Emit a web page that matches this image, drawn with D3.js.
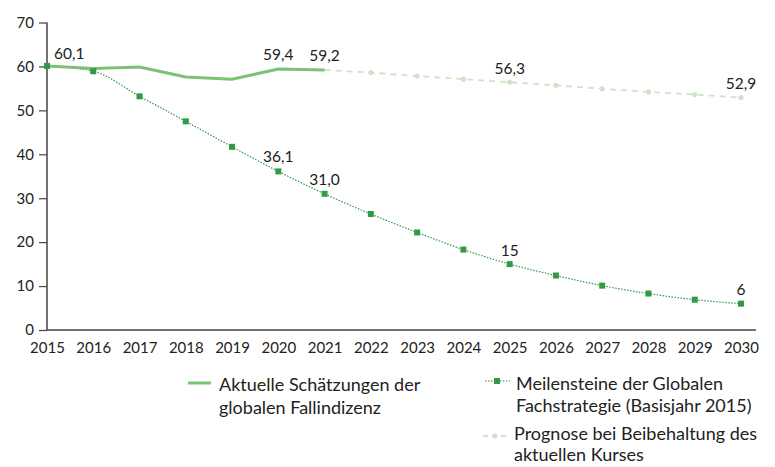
<!DOCTYPE html>
<html><head><meta charset="utf-8">
<script src="https://cdn.jsdelivr.net/npm/d3@7"></script>
<style>body{margin:0;background:#fff}svg{font-family:Lato,"Open Sans",sans-serif}</style>
</head><body><svg id="c" width="775" height="467"></svg>
<script>
const years = d3.range(2015, 2031);
const yTicks = [0,10,20,30,40,50,60,70];
const currentYears = [2015,2016,2017,2018,2019,2020,2021];
const currentValues = [60.1,59.55,59.85,57.6,57.1,59.4,59.2];
const milestoneYears = d3.range(2015, 2031);
const milestoneValues = [60.1,58.9,53.2,47.5,41.7,36.1,31.0,26.4,22.2,18.3,15,12.4,10.1,8.3,6.9,6];
const forecastYears = d3.range(2021, 2031);
const forecastValues = [59.2,58.6,57.8,57.1,56.4,55.7,54.9,54.2,53.6,52.9];
const labels = [
  {year:2015, value:60.1, text:"60,1", anchor:"start", dx:7, dy:-7},
  {year:2020, value:59.4, text:"59,4", anchor:"middle", dx:0, dy:-9},
  {year:2021, value:59.2, text:"59,2", anchor:"middle", dx:0, dy:-9},
  {year:2020, value:36.1, text:"36,1", anchor:"middle", dx:0, dy:-9},
  {year:2021, value:31.0, text:"31,0", anchor:"middle", dx:0, dy:-9},
  {year:2025, value:15, text:"15", anchor:"middle", dx:0, dy:-8},
  {year:2030, value:6, text:"6", anchor:"middle", dx:0, dy:-9},
  {year:2025, value:56.3, text:"56,3", anchor:"middle", dx:0, dy:-9},
  {year:2030, value:52.9, text:"52,9", anchor:"middle", dx:0, dy:-9}
];
const cCur="#7cc274", cMil="#2f9a48", cFor="#cfe3c9";
const svg = d3.select("#c");
const x = d3.scaleLinear().domain([2015,2030]).range([47,741]);
const y = d3.scaleLinear().domain([0,70]).range([330,22.5]);

const gy = svg.append("g").attr("transform","translate(47,0)")
  .call(d3.axisLeft(y).tickValues(yTicks).tickSize(8).tickPadding(5).tickFormat(d3.format("d")));
gy.select(".domain").attr("d",`M0,${y(70)}V${y(0)}`);
const gx = svg.append("g").attr("transform",`translate(0,${y(0)})`)
  .call(d3.axisBottom(x).tickValues(years).tickSize(0).tickPadding(12).tickFormat(d3.format("d")));
gx.select(".domain").attr("d",`M47,0H756`);
svg.selectAll(".domain").attr("stroke","#444").attr("stroke-width",1.5);
svg.selectAll(".tick line").attr("stroke","#444").attr("stroke-width",1.2);
svg.selectAll(".tick text").attr("font-size",15).attr("fill","#222").attr("font-family","Lato, sans-serif");

const line = d3.line().x(d=>x(d[0])).y(d=>y(d[1]));
const fData = forecastYears.map((d,i)=>[d,forecastValues[i]]);
svg.append("path").attr("d",line(fData)).attr("fill","none").attr("stroke",cFor).attr("stroke-width",1.8).attr("stroke-dasharray","6,5");
svg.selectAll(".fp").data(fData.slice(1)).join("circle").attr("cx",d=>x(d[0])).attr("cy",d=>y(d[1])).attr("r",2.6).attr("fill",cFor);
const mData = milestoneYears.map((d,i)=>[d,milestoneValues[i]]);
svg.append("path").attr("d",d3.line().curve(d3.curveMonotoneX).x(d=>x(d[0])).y(d=>y(d[1]))(mData)).attr("fill","none").attr("stroke",cMil).attr("stroke-width",1.2).attr("stroke-dasharray","1.5,1.5");
const cData = currentYears.map((d,i)=>[d,currentValues[i]]);
svg.append("path").attr("d",line(cData)).attr("fill","none").attr("stroke",cCur).attr("stroke-width",3);
svg.selectAll(".mp").data(mData).join("rect").attr("x",d=>x(d[0])-3).attr("y",d=>y(d[1])-3).attr("width",6).attr("height",6).attr("fill",cMil);

svg.selectAll(".lb").data(labels).join("text")
  .attr("x",d=>x(d.year)+d.dx).attr("y",d=>y(d.value)+d.dy)
  .attr("text-anchor",d=>d.anchor).attr("font-size",15.5).attr("fill","#222").text(d=>d.text);

const lg = svg.append("g").attr("font-size",18).attr("fill","#222");
lg.append("line").attr("x1",188).attr("x2",211).attr("y1",383).attr("y2",383).attr("stroke",cCur).attr("stroke-width",3);
lg.append("text").attr("x",219).attr("y",391).text("Aktuelle Schätzungen der");
lg.append("text").attr("x",219).attr("y",414).text("globalen Fallindizenz");
lg.append("line").attr("x1",485).attr("x2",510).attr("y1",381).attr("y2",381).attr("stroke",cMil).attr("stroke-width",1.2).attr("stroke-dasharray","1.5,1.5");
lg.append("rect").attr("x",494).attr("y",378).attr("width",6).attr("height",6).attr("fill",cMil);
lg.append("text").attr("x",516).attr("y",390).text("Meilensteine der Globalen");
lg.append("text").attr("x",516).attr("y",412).text("Fachstrategie (Basisjahr 2015)");
lg.append("line").attr("x1",483).attr("x2",509).attr("y1",436).attr("y2",436).attr("stroke",cFor).attr("stroke-width",1.8).attr("stroke-dasharray","5,4");
lg.append("circle").attr("cx",495).attr("cy",436).attr("r",2.6).attr("fill",cFor);
lg.append("text").attr("x",514).attr("y",440).text("Prognose bei Beibehaltung des");
lg.append("text").attr("x",514).attr("y",461).text("aktuellen Kurses");
</script></body></html>
